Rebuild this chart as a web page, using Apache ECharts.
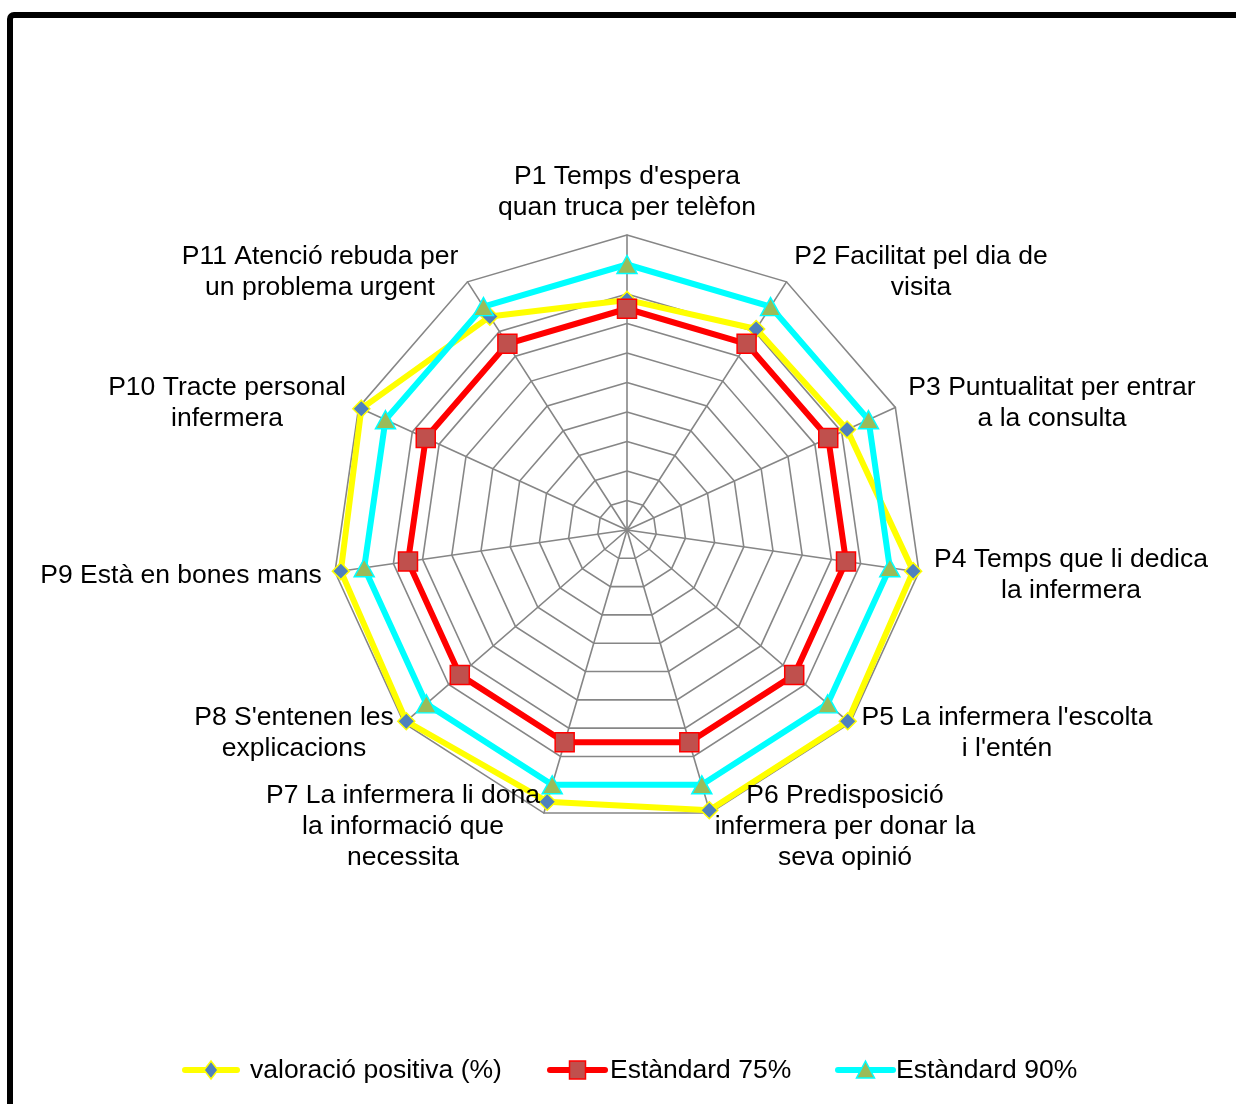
<!DOCTYPE html>
<html>
<head>
<meta charset="utf-8">
<title>Valoració positiva</title>
<script src="https://cdn.jsdelivr.net/npm/echarts@6/dist/echarts.min.js"></script>
<style>
  html, body { margin: 0; padding: 0; background: #ffffff; }
  #chart { width: 1236px; height: 1104px; }
</style>
</head>
<body>
<div id="chart"></div>
<script>
// Questions, in clockwise order starting at the top
const categories = [
  "P1 Temps d'espera\nquan truca per telèfon",
  "P2 Facilitat pel dia de\nvisita",
  "P3 Puntualitat per entrar\na la consulta",
  "P4 Temps que li dedica\nla infermera",
  "P5 La infermera l'escolta\ni l'entén",
  "P6 Predisposició\ninfermera per donar la\nseva opinió",
  "P7 La infermera li dona\nla informació que\nnecessita",
  "P8 S'entenen les\nexplicacions",
  "P9 Està en bones mans",
  "P10 Tracte personal\ninfermera",
  "P11 Atenció rebuda per\nun problema urgent"
];

// Series values (%), same order as categories
const valoracioPositiva = [78, 81, 82, 98, 99, 99, 96, 99, 98, 99, 86];
const estandard75 = [75, 75, 75, 75, 75, 75, 75, 75, 75, 75, 75];
const estandard90 = [90, 90, 90, 90, 90, 90, 90, 90, 90, 90, 90];

const seriesNames = ['valoració positiva (%)', 'Estàndard 75%', 'Estàndard 90%'];

// Label block centres (layout only)
const labelCenters = [
  [627, 192], [921, 272], [1052, 403], [1071, 575], [1007, 733],
  [845, 827], [403, 827], [294, 733], [181, 576], [227, 403], [320, 272]
];

const FONT = "'Liberation Sans', Arial, sans-serif";
const FONT_SIZE = '26.5px ';
const CX = 627, CY = 530, R = 295;

// ECharts lays radar indicators out counter-clockwise; reorder so the
// questions run clockwise from the top.
function clockwiseOrder(arr) {
  return [arr[0]].concat(arr.slice(1).reverse());
}

const indicator = clockwiseOrder(categories).map(function (name) {
  return { name: name, min: 0, max: 100 };
});

const styles = [
  { line: '#FFFF00', fill: '#4F81BD', symbol: 'diamond', size: [17, 17] },
  { line: '#FF0000', fill: '#C0504D', symbol: 'rect', size: [19, 19] },
  { line: '#00FFFF', fill: '#9BBB59', symbol: 'triangle', size: [20, 18] }
];
const values = [valoracioPositiva, estandard75, estandard90];

const series = values.map(function (vals, i) {
  const s = styles[i];
  return {
    type: 'radar',
    name: seriesNames[i],
    z: 2 + i,
    symbol: s.symbol,
    symbolSize: s.size,
    itemStyle: { color: s.fill, borderColor: s.line, borderWidth: 1.5 },
    lineStyle: { color: s.line, width: 6 },
    emphasis: { disabled: true },
    data: [{ name: seriesNames[i], value: clockwiseOrder(vals) }]
  };
});

// Axis labels
const labelGraphics = categories.map(function (text, i) {
  return {
    type: 'text',
    x: labelCenters[i][0],
    y: labelCenters[i][1],
    z: 10,
    style: {
      text: text,
      fill: '#000000',
      font: FONT_SIZE + FONT,
      lineHeight: 31,
      align: 'center',
      verticalAlign: 'middle'
    }
  };
});

// Legend: line sample with marker, then the series name
const legendItems = [
  { x0: 185, x1: 237, tx: 250 },
  { x0: 550, x1: 605, tx: 610 },
  { x0: 838, x1: 893, tx: 896 }
];
const LEG_Y = 1070;
const legendGraphics = [];
legendItems.forEach(function (it, i) {
  const s = styles[i];
  const mx = (it.x0 + it.x1) / 2;
  legendGraphics.push({
    type: 'line',
    shape: { x1: it.x0, y1: LEG_Y, x2: it.x1, y2: LEG_Y },
    style: { stroke: s.line, lineWidth: 6, lineCap: 'round' }
  });
  let marker;
  if (s.symbol === 'diamond') {
    marker = { type: 'polygon', shape: { points: [[mx, LEG_Y - 9], [mx + 7, LEG_Y], [mx, LEG_Y + 9], [mx - 7, LEG_Y]] } };
  } else if (s.symbol === 'rect') {
    marker = { type: 'rect', shape: { x: mx - 8, y: LEG_Y - 9, width: 16, height: 18 } };
  } else {
    marker = { type: 'polygon', shape: { points: [[mx, LEG_Y - 9], [mx + 9, LEG_Y + 8], [mx - 9, LEG_Y + 8]] } };
  }
  marker.style = { fill: s.fill, stroke: s.line, lineWidth: 1.5 };
  marker.z = 5;
  legendGraphics.push(marker);
  legendGraphics.push({
    type: 'text',
    x: it.tx,
    y: LEG_Y + 1,
    style: {
      text: seriesNames[i],
      fill: '#000000',
      font: FONT_SIZE + FONT,
      align: 'left',
      verticalAlign: 'middle'
    }
  });
});

// Chart area frame
const frame = {
  type: 'rect',
  shape: { x: 10, y: 15, width: 1300, height: 1200, r: 4 },
  style: { fill: null, stroke: '#000000', lineWidth: 6 },
  z: 20
};

const chart = echarts.init(document.getElementById('chart'), null, { renderer: 'canvas' });
chart.setOption({
  backgroundColor: '#ffffff',
  animation: false,
  radar: {
    center: [CX, CY],
    radius: R,
    startAngle: 90,
    shape: 'polygon',
    splitNumber: 10,
    indicator: indicator,
    axisName: { show: false },
    axisLine: { lineStyle: { color: '#868686', width: 1.6 } },
    splitLine: { lineStyle: { color: '#868686', width: 1.6 } },
    splitArea: { show: false },
    axisTick: { show: false },
    axisLabel: { show: false }
  },
  series: series,
  graphic: [frame].concat(labelGraphics, legendGraphics)
});
</script>
</body>
</html>
